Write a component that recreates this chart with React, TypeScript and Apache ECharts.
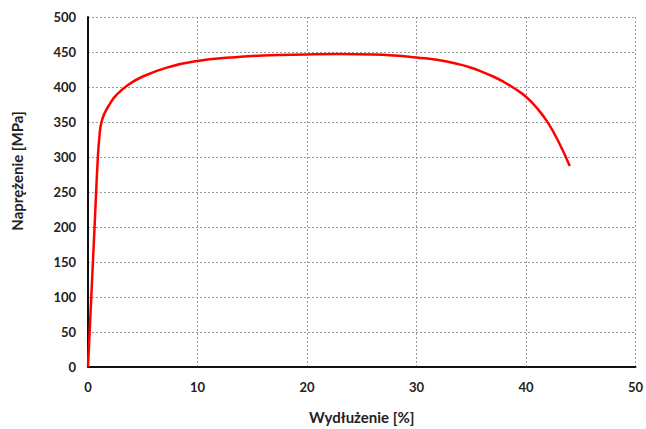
import React, { useEffect, useRef } from "react";
import * as echarts from "echarts";

const elongation = [0, 0.3, 0.6, 0.9, 1.05, 1.2, 1.5, 2, 2.5, 3.5, 5, 7.5, 10, 13, 16, 20, 23, 26, 28, 30, 32, 34, 35, 36, 37, 38, 39, 40, 41, 42, 43, 44];
const stress = [0, 100, 200, 300, 330, 348, 362, 376, 387, 401, 415, 429, 437, 442, 445, 446.5, 447, 446.5, 445, 442, 438.5, 432, 427.5, 421.5, 415, 407, 397.5, 386, 370, 349, 321, 287];

const xTitle = "Wydłużenie [%]";
const yTitle = "Naprężenie [MPa]";

export default function App() {
  const ref = useRef<HTMLDivElement>(null);
  useEffect(() => {
    if (!ref.current) return;
    const chart = echarts.init(ref.current, null, { renderer: "svg" });
    const font = "Lato, 'Noto Sans', sans-serif";
    const gridLine = { show: true, lineStyle: { color: "#9a9a9a", type: [2, 2] as any, width: 1 } };
    chart.setOption({
      animation: false,
      backgroundColor: "#ffffff",
      grid: { left: 88, right: 9, top: 17, bottom: 58, containLabel: false },
      xAxis: {
        type: "value",
        min: 0,
        max: 50,
        interval: 10,
        name: xTitle,
        nameLocation: "middle",
        nameGap: 42,
        nameTextStyle: { fontFamily: font, fontWeight: "bold", fontSize: 15, color: "#222" },
        axisLine: { show: true, onZero: false, lineStyle: { color: "#111", width: 2 } },
        axisTick: { show: false },
        axisLabel: { fontFamily: font, fontWeight: "bold", fontSize: 13, color: "#222", margin: 13 },
        splitLine: gridLine,
      },
      yAxis: {
        type: "value",
        min: 0,
        max: 500,
        interval: 50,
        name: yTitle,
        nameLocation: "middle",
        nameGap: 64,
        nameTextStyle: { fontFamily: font, fontWeight: "bold", fontSize: 15, color: "#222", padding: [0, 0, 0, 42] },
        axisLine: { show: true, onZero: false, lineStyle: { color: "#111", width: 2 } },
        axisTick: { show: false },
        axisLabel: { fontFamily: font, fontWeight: "bold", fontSize: 13, color: "#222", margin: 12 },
        splitLine: gridLine,
      },
      series: [
        {
          type: "line",
          data: elongation.map((x, i) => [x, stress[i]]),
          smooth: 0.5,
          showSymbol: false,
          lineStyle: { color: "#ff0000", width: 2.5 },
        },
      ],
    });
    return () => chart.dispose();
  }, []);
  return (
    <div
      ref={ref}
      style={{ position: "fixed", left: 0, top: 0, width: 646, height: 429, background: "#fff" }}
    />
  );
}
